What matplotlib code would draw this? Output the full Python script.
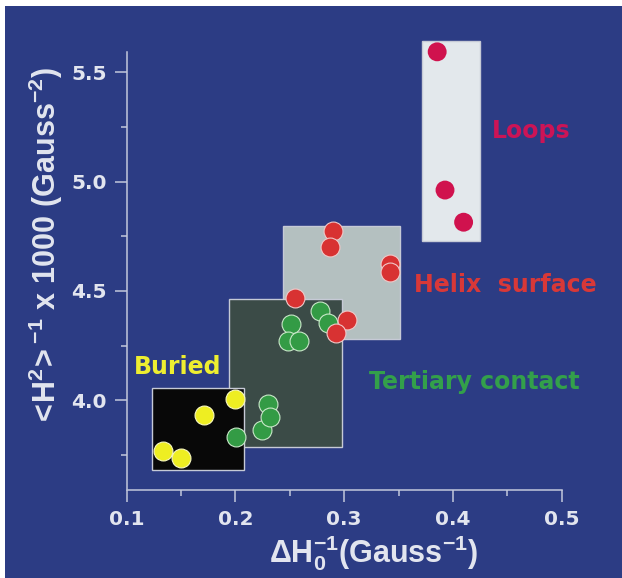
import matplotlib
matplotlib.use("Agg")
import matplotlib.pyplot as plt
from matplotlib.patches import Rectangle
from matplotlib.ticker import MultipleLocator, FormatStrFormatter

plt.rcParams["mathtext.fontset"] = "custom"
plt.rcParams["mathtext.rm"] = "Liberation Sans:bold"
plt.rcParams["mathtext.it"] = "Liberation Sans:bold"
plt.rcParams["mathtext.bf"] = "Liberation Sans:bold"
plt.rcParams["mathtext.sf"] = "Liberation Sans:bold"

# ---------------- data ----------------
buried_x = [0.133, 0.150, 0.171, 0.200]
buried_y = [3.768, 3.737, 3.932, 4.008]

tertiary_x = [0.2007, 0.2244, 0.2302, 0.2316, 0.2509, 0.2484, 0.2582, 0.2782, 0.2847]
tertiary_y = [3.834, 3.864, 3.983, 3.924, 4.347, 4.271, 4.271, 4.407, 4.351]

helix_x = [0.2545, 0.2898, 0.2865, 0.3418, 0.3418, 0.3029, 0.2927]
helix_y = [4.469, 4.775, 4.700, 4.622, 4.588, 4.368, 4.308]

loops_x = [0.3855, 0.3927, 0.4098]
loops_y = [5.593, 4.961, 4.814]

# region boxes: (x0, x1, y0, y1)
box_helix = (0.244, 0.351, 4.278, 4.798)
box_tertiary = (0.1945, 0.298, 3.786, 4.464)
box_buried = (0.123, 0.208, 3.679, 4.055)
box_loops = (0.3716, 0.425, 4.730, 5.641)

labels = ["Buried", "Tertiary contact", "Helix  surface", "Loops"]
label_pos = [(0.1469, 4.152), (0.4197, 4.084), (0.4486, 4.525), (0.4715, 5.232)]

x_ticks = [0.1, 0.2, 0.3, 0.4, 0.5]
y_ticks = [4.0, 4.5, 5.0, 5.5]

# ---------------- style ----------------
BG = "#2c3c84"
AX = "#c3c8dc"
TXT = "#e2e5ef"

fig = plt.figure(figsize=(6.22, 5.78), dpi=100)
fig.patch.set_facecolor("white")
fig.patches.append(Rectangle((5 / 622, 0), 1, 1 - 6 / 578, transform=fig.transFigure,
                             facecolor=BG, edgecolor="none", zorder=-10))

ax = fig.add_axes([126.7 / 622, 1 - 489.5 / 578, (561.7 - 126.7) / 622, (489.5 - 51.6) / 578])
ax.set_facecolor("none")
ax.set_xlim(0.1, 0.5)
ax.set_ylim(3.592, 5.594)

for s in ["top", "right"]:
    ax.spines[s].set_visible(False)
for s in ["left", "bottom"]:
    ax.spines[s].set_color(AX)
    ax.spines[s].set_linewidth(1.1)

ax.set_xticks(x_ticks)
ax.set_yticks(y_ticks)
ax.xaxis.set_minor_locator(MultipleLocator(0.05))
ax.yaxis.set_minor_locator(MultipleLocator(0.25))
ax.xaxis.set_major_formatter(FormatStrFormatter("%.1f"))
ax.yaxis.set_major_formatter(FormatStrFormatter("%.1f"))
ax.tick_params(which="major", length=8.5, width=1.1, color=AX, direction="out",
               labelcolor=TXT, labelsize=14.5, pad=6)
ax.tick_params(which="minor", length=4.5, width=1.1, color=AX, direction="out")
for lab in ax.get_xticklabels() + ax.get_yticklabels():
    lab.set_fontweight("bold")
    lab.set_family("DejaVu Sans")


def add_box(b, fc, z):
    x0, x1, y0, y1 = b
    ax.add_patch(Rectangle((x0, y0), x1 - x0, y1 - y0, facecolor=fc,
                           edgecolor="#c6cad6", linewidth=1.0, zorder=z, clip_on=False))


add_box(box_helix, "#b4c0c0", 1)
add_box(box_tertiary, "#3b4b47", 2)
add_box(box_buried, "#080808", 3)
add_box(box_loops, "#e3e8ec", 1)

ms = 185
ax.scatter(tertiary_x, tertiary_y, s=ms, color="#339b45", edgecolors="#c8e8c8",
           linewidths=0.8, zorder=5, clip_on=False)
ax.scatter(helix_x, helix_y, s=ms, color="#d83232", edgecolors="#f0c8c8",
           linewidths=0.8, zorder=6, clip_on=False)
ax.scatter(buried_x, buried_y, s=ms, color="#eeee22", edgecolors="#f8f8c0",
           linewidths=0.8, zorder=6, clip_on=False)
ax.scatter(loops_x, loops_y, s=ms, color="#d0124e", edgecolors="none", zorder=6,
           clip_on=False)

label_colors = ["#eeee30", "#33a04a", "#d83838", "#cc1456"]
for t, (lx, ly), c in zip(labels, label_pos, label_colors):
    ax.text(lx, ly, t, color=c, fontsize=17, fontweight="bold", family="DejaVu Sans",
            ha="center", va="center", zorder=7)

fig.text(373.5 / 622, 1 - 553 / 578,
         r"$\Delta\mathrm{H}_0^{-1}\mathrm{(Gauss}^{-1}\mathrm{)}$",
         color=TXT, fontsize=22, ha="center", va="center")
fig.text(46 / 622, 1 - 247 / 578,
         r"$<\!\mathrm{H}^2\!>^{-1}\ \mathrm{x\ 1000\ (Gauss}^{-2}\mathrm{)}$",
         color=TXT, fontsize=22, ha="center", va="center", rotation=90)

fig.savefig("out.png", dpi=100, facecolor=fig.get_facecolor())
